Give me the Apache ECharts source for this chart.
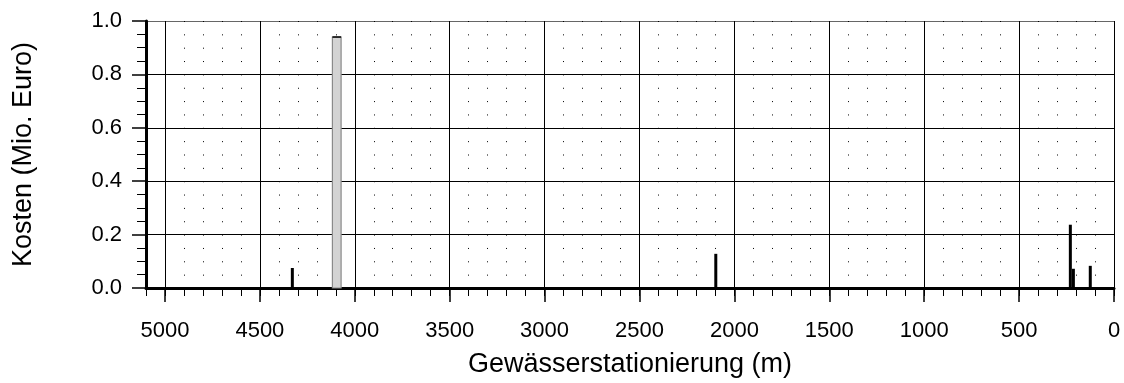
<!DOCTYPE html>
<html>
<head>
<meta charset="utf-8">
<script src="https://cdn.jsdelivr.net/npm/echarts@6/dist/echarts.min.js"></script>
<style>
  html, body { margin: 0; padding: 0; background: #fff; }
  #chart { width: 1124px; height: 383px; }
</style>
</head>
<body>
<div id="chart"></div>
<script>
// Stationierung (m) und Kosten (Mio. Euro)
var stations = [4329, 2098, 230, 214, 125];
var costs = [0.075, 0.128, 0.237, 0.072, 0.083];
var grayStations = [4095];
var grayCosts = [0.94];
var xMajorTicks = [0, 500, 1000, 1500, 2000, 2500, 3000, 3500, 4000, 4500, 5000];

var font = '"Liberation Sans", Arial, sans-serif';

function pairs(xs, ys) {
  return xs.map(function (x, i) { return [x, ys[i]]; });
}

function barRenderer(width, fill, stroke, topLine) {
  return function (params, api) {
    var top = api.coord([api.value(0), api.value(1)]);
    var base = api.coord([api.value(0), 0]);
    var x = top[0] - width / 2;
    var children = [{
      type: 'rect',
      shape: { x: x, y: top[1], width: width, height: base[1] - top[1] },
      style: { fill: fill, stroke: stroke, lineWidth: stroke ? 1.2 : 0 }
    }];
    if (topLine) {
      children.push({
        type: 'line',
        shape: { x1: x, y1: top[1], x2: x + width, y2: top[1] },
        style: { stroke: '#000', lineWidth: 1.5 }
      });
    }
    return { type: 'group', children: children };
  };
}

var chart = echarts.init(document.getElementById('chart'), null, { renderer: 'canvas' });
chart.setOption({
  animation: false,
  grid: { left: 146, right: 10, top: 21, height: 267, outerBoundsMode: 'none', containLabel: false },
  xAxis: [
    {
      type: 'value', inverse: true, min: 0, max: 5100, interval: 500, position: 'bottom',
      name: 'Gewässerstationierung (m)', nameLocation: 'middle', nameGap: 63,
      nameTextStyle: { color: '#000', fontSize: 27, fontFamily: font },
      axisLine: { show: true, onZero: false, lineStyle: { color: '#000', width: 3 } },
      axisTick: { show: true, inside: false, length: 14, customValues: xMajorTicks, lineStyle: { color: '#000', width: 1.5 } },
      axisLabel: { color: '#000', fontSize: 22, fontFamily: font, margin: 32, customValues: xMajorTicks,
        formatter: function (v) { return String(v); } },
      splitLine: { show: true, lineStyle: { color: '#000', width: 1 } }
    },
    {
      type: 'value', inverse: true, min: 0, max: 5100, interval: 100, position: 'bottom',
      axisLine: { show: false, onZero: false },
      axisTick: { show: true, inside: false, length: 8, lineStyle: { color: '#000', width: 1 } },
      axisLabel: { show: false },
      splitLine: { show: true, lineStyle: { color: '#000', width: 1, type: [1, 12.35] } }
    }
  ],
  yAxis: {
    type: 'value', min: 0, max: 1, interval: 0.2, position: 'left',
    name: 'Kosten (Mio. Euro)', nameLocation: 'middle', nameGap: 109,
    nameTextStyle: { color: '#000', fontSize: 27, fontFamily: font },
    axisLine: { show: true, onZero: false, lineStyle: { color: '#000', width: 3 } },
    axisTick: { show: true, inside: false, length: 14, lineStyle: { color: '#000', width: 1.5 } },
    minorTick: { show: true, splitNumber: 4, length: 9, lineStyle: { color: '#000', width: 1 } },
    axisLabel: { color: '#000', fontSize: 22, fontFamily: font, margin: 24, formatter: function (v) { return v.toFixed(1); } },
    splitLine: { show: true, lineStyle: { color: ['#000', '#000', '#000', '#000', '#000', '#666'], width: 1 } }
  },
  series: [
    {
      type: 'custom', xAxisIndex: 0, yAxisIndex: 0, z: 5,
      encode: { x: 0, y: 1 },
      renderItem: barRenderer(8.7, '#d3d3d3', '#8a8a8a', true),
      data: pairs(grayStations, grayCosts)
    },
    {
      type: 'custom', xAxisIndex: 0, yAxisIndex: 0, z: 5,
      encode: { x: 0, y: 1 },
      renderItem: barRenderer(3, '#000', null, false),
      data: pairs(stations, costs)
    }
  ]
});
window.addEventListener('resize', function () { chart.resize(); });
</script>
</body>
</html>
